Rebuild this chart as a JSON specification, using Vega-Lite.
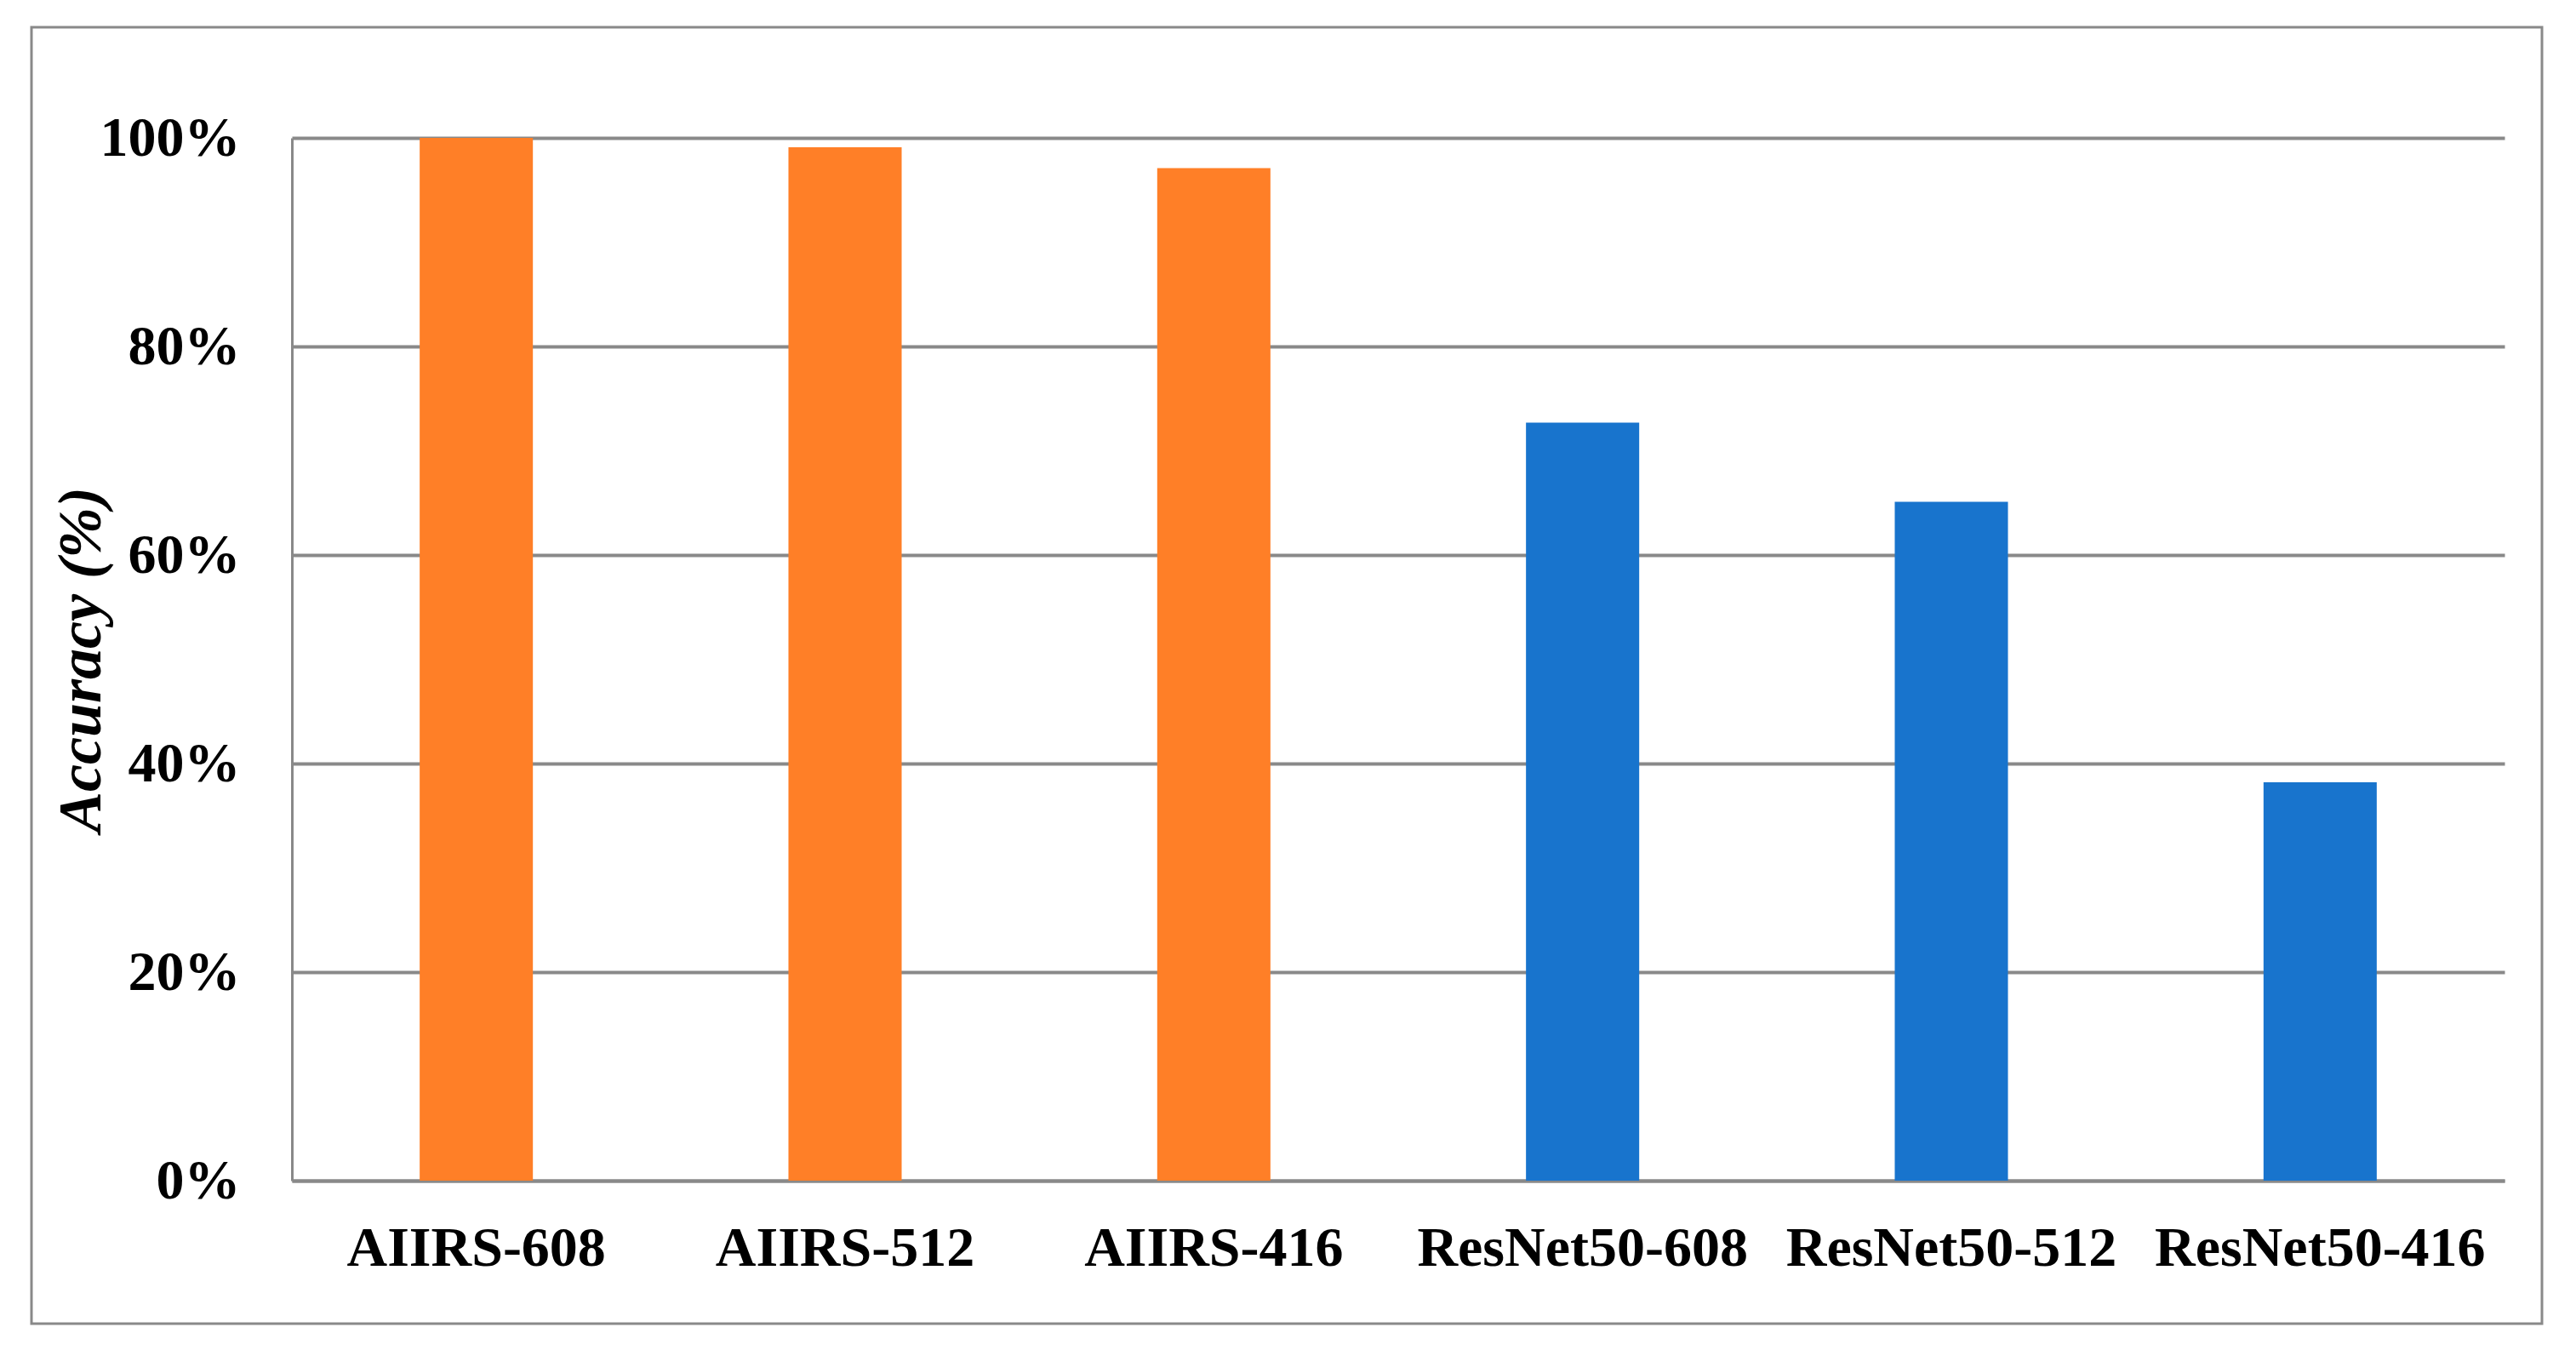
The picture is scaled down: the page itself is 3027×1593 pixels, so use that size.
{
  "$schema": "https://vega.github.io/schema/vega-lite/v6.json",
  "width": 2950,
  "height": 1523,
  "autosize": {"type": "none"},
  "padding": {"left": 37, "top": 32, "right": 40, "bottom": 38},
  "background": "white",
  "data": {
    "values": [
      {"model": "AIIRS-608", "family": "AIIRS", "accuracy": 1.0},
      {"model": "AIIRS-512", "family": "AIIRS", "accuracy": 0.991},
      {"model": "AIIRS-416", "family": "AIIRS", "accuracy": 0.971},
      {"model": "ResNet50-608", "family": "ResNet50", "accuracy": 0.727},
      {"model": "ResNet50-512", "family": "ResNet50", "accuracy": 0.651},
      {"model": "ResNet50-416", "family": "ResNet50", "accuracy": 0.382}
    ]
  },
  "mark": {"type": "bar", "width": {"band": 0.307}},
  "encoding": {
    "x": {
      "field": "model",
      "type": "nominal",
      "sort": null,
      "scale": {"range": [306, 2906], "paddingInner": 0, "paddingOuter": 0},
      "axis": {
        "orient": "bottom",
        "offset": -168,
        "title": null,
        "labelAngle": 0,
        "grid": false,
        "ticks": false,
        "tickSize": 0,
        "domainColor": "#898989",
        "domainWidth": 4,
        "labelPadding": 47,
        "labelFont": "Liberation Serif",
        "labelFontSize": 66,
        "labelFontWeight": "bold",
        "labelColor": "black",
        "labelLimit": 0,
        "labelOverlap": false
      }
    },
    "y": {
      "field": "accuracy",
      "type": "quantitative",
      "scale": {"domain": [0, 1], "range": [1355, 130], "nice": false, "zero": true},
      "axis": {
        "orient": "left",
        "offset": -306,
        "values": [0, 0.2, 0.4, 0.6, 0.8, 1],
        "format": ".0%",
        "grid": true,
        "gridColor": "#898989",
        "gridWidth": 4,
        "ticks": false,
        "tickSize": 0,
        "domainColor": "#898989",
        "domainWidth": 3,
        "labelPadding": 61,
        "labelFont": "Liberation Serif",
        "labelFontSize": 66,
        "labelFontWeight": "bold",
        "labelColor": "black",
        "labelFlush": false,
        "labelOverlap": false,
        "title": "Accuracy (%)",
        "titleFont": "Liberation Serif",
        "titleFontSize": 72,
        "titleFontStyle": "italic",
        "titleFontWeight": "bold",
        "titleColor": "black",
        "titlePadding": 11
      }
    },
    "color": {
      "field": "family",
      "type": "nominal",
      "scale": {"domain": ["AIIRS", "ResNet50"], "range": ["#FF7F27", "#1874CD"]},
      "legend": null
    }
  },
  "config": {"view": {"stroke": "#898989", "strokeWidth": 3}}
}
